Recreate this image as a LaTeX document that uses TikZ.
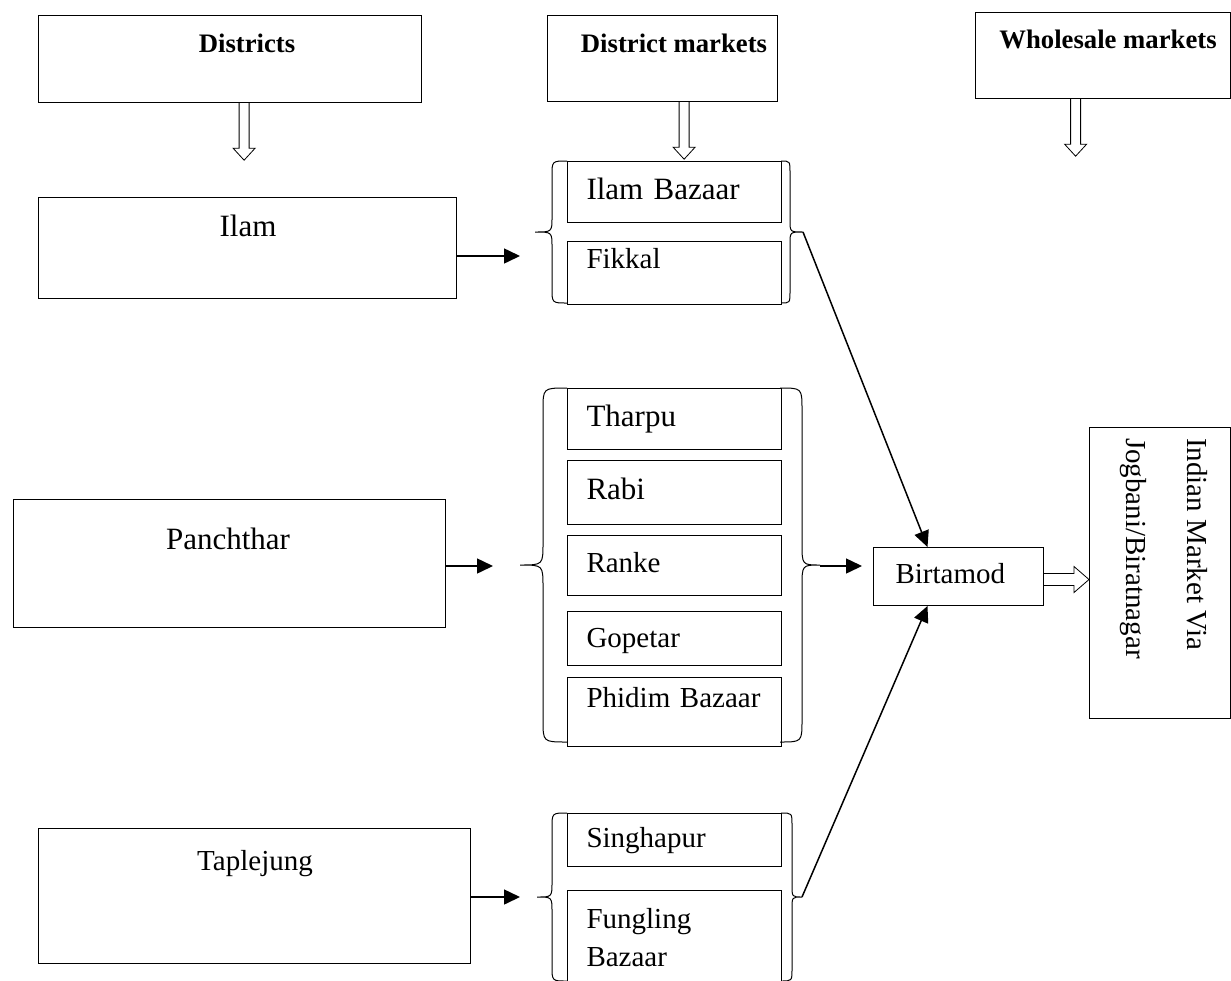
\documentclass[tikz,border=0pt]{standalone}
\usepackage{fontspec}
\setmainfont{Liberation Serif}
\usetikzlibrary{positioning, arrows.meta}

\newcommand{\mfont}{\fontsize{29}{38}\selectfont}
\newcommand{\lfont}{\fontsize{31}{38}\selectfont}

% open block arrows
\newcommand{\hollowdown}[1]{\draw[hollow] (#1) ++(-5,0) -- ++(0,45) -- ++(-6,0) -- ++(11,12) -- ++(11,-12) -- ++(-6,0) -- ++(0,-45);}
\newcommand{\hollowright}[1]{\draw[hollow] (#1) ++(0,-6) -- ++(30,0) -- ++(0,-7) -- ++(15,13) -- ++(-15,13) -- ++(0,-7) -- ++(-30,0);}
% brace: end x, body x, tip x, top y, bottom y, curl
\newcommand{\sidebrace}[6]{\draw[brc] (#1,#4) .. controls (#2,#4) .. (#2,{#4+#6}) -- (#2,{(#4+#5)/2-#6}) .. controls (#2,{(#4+#5)/2}) .. (#3,{(#4+#5)/2}) .. controls (#2,{(#4+#5)/2}) .. (#2,{(#4+#5)/2+#6}) -- (#2,{#5-#6}) .. controls (#2,#5) .. (#1,#5);}

\begin{document}
\begin{tikzpicture}[x=1pt, y=-1pt, >={Triangle[length=16pt, width=15pt]},
    bigbox/.style={draw, line width=1.2pt, anchor=north west, inner sep=0pt},
    mktbox/.style={draw, line width=1pt, minimum width=214pt, minimum height=#1, text width=176pt, inner xsep=19pt, inner ysep=0pt, align=left, text height=20pt, text depth=6pt, font=\mfont},
    mktbox/.default=61pt,
    head/.style={anchor=base, font=\fontsize{26.7}{32}\selectfont\bfseries},
    txt/.style={anchor=base, font=\mfont},
    conn/.style={->, line width=1.5pt},
    hollow/.style={line width=0.8pt, fill=white},
    brc/.style={line width=1pt}]

    \useasboundingbox (0,0) rectangle (1231,980);

    % headers
    \node[bigbox, minimum width=383pt, minimum height=87pt] (districts) at (38,15) {};
    \node[bigbox, minimum width=230pt, minimum height=86pt] (dmarkets) at (547,15) {};
    \node[bigbox, minimum width=255pt, minimum height=86pt] (wmarkets) at (975,12) {};
    \node[head] (distxt) at (247,52) {Districts};
    \node[head] (dmtxt) at (674,52) {District markets};
    \node[head] (wmtxt) at (1108,48) {Wholesale markets};

    % districts
    \node[bigbox, minimum width=418pt, minimum height=101pt] (ilam) at (38,197) {};
    \node[bigbox, minimum width=432pt, minimum height=128pt] (panch) at (13,499) {};
    \node[bigbox, minimum width=432pt, minimum height=135pt] (taple) at (38,828) {};
    \node[txt, font=\lfont] (ilamtxt) at (248,236) {Ilam};
    \node[txt, font=\lfont] (panchtxt) at (228,549) {Panchthar};
    \node[txt] (tapletxt) at (255,870) {Taplejung};

    % district markets
    \node[mktbox, anchor=north west, font=\lfont] (ilambz) at (567,161) {Ilam Bazaar};
    \node[mktbox=63pt, text depth=29pt, below=18pt of ilambz] (fikkal) {Fikkal};

    \node[mktbox, anchor=north west, font=\lfont] (tharpu) at (567,388) {Tharpu};
    \node[mktbox=64pt, font=\lfont, below=10pt of tharpu] (rabi) {Rabi};
    \node[mktbox=60pt, below=10pt of rabi] (ranke) {Ranke};
    \node[mktbox=54pt, text depth=2pt, below=15pt of ranke] (gopetar) {Gopetar};
    \node[mktbox=69pt, text depth=29pt, below=11pt of gopetar] (phidim) {Phidim Bazaar};

    \node[mktbox=53pt, anchor=north west] (singha) at (567,813) {Singhapur};
    \node[mktbox=94pt, text depth=38pt, below=23pt of singha] (fungling) {Fungling\\Bazaar};

    \sidebrace{567}{552}{535}{161}{303}{15}
    \sidebrace{781}{790}{803}{161}{303}{12}
    \sidebrace{567}{543}{520}{388}{742}{22}
    \sidebrace{780}{802}{820}{388}{742}{22}
    \sidebrace{567}{552}{537}{813}{981}{15}
    \sidebrace{781}{792}{802}{813}{981}{12}

    % wholesale
    \node[mktbox=58pt, anchor=north west, minimum width=170pt, text width=126pt, inner xsep=22pt] (birtamod) at (873,547) {Birtamod};
    \node[bigbox, minimum width=141pt, minimum height=291pt] (indian) at (1089,427) {};
    \node[rotate=-90, anchor=north west, align=left, inner sep=0pt, font=\fontsize{29}{61}\selectfont] (indtxt) at (1208,438) {Indian Market Via\\Jogbani/Biratnagar};

    % connectors
    \coordinate (ilamin) at (520,256);
    \coordinate (panchin) at (493,566);
    \coordinate (taplein) at (520,897);
    \coordinate (ilamtip) at (803,232);
    \coordinate (panchtip) at (820,566);
    \coordinate (tapletip) at (802,897);
    \coordinate (birtin) at (862,566);

    \draw[conn] (ilam.east |- ilamin) -- (ilamin);
    \draw[conn] (panch.east |- panchin) -- (panchin);
    \draw[conn] (taple.east |- taplein) -- (taplein);
    \draw[conn] (ilamtip) -- ([xshift=-31pt]birtamod.north);
    \draw[conn] (panchtip) -- (birtin);
    \draw[conn] (tapletip) -- ([xshift=-31pt]birtamod.south);

    \hollowdown{[xshift=14pt]districts.south}
    \hollowdown{[xshift=21.5pt]dmarkets.south}
    \hollowdown{[xshift=-27.5pt]wmarkets.south}
    \hollowright{[yshift=-3pt]birtamod.east}

\end{tikzpicture}
\end{document}
